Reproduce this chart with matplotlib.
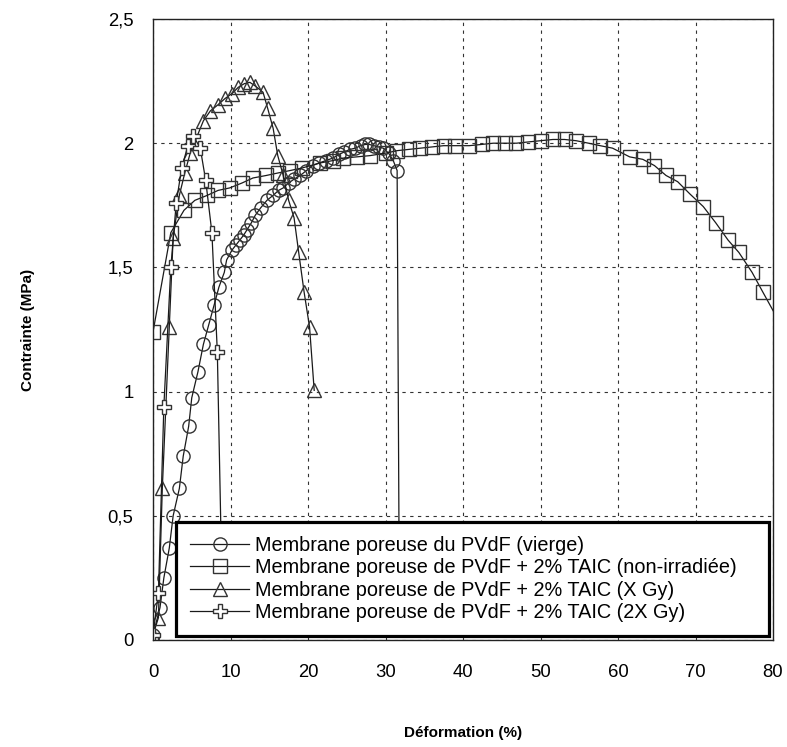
import matplotlib
matplotlib.use("Agg")
import matplotlib.pyplot as plt
from matplotlib.ticker import FuncFormatter

plt.rcParams['font.family'] = ['Liberation Sans', 'DejaVu Sans']

# ---- data ----
circ_x = [0.0, 0.9, 1.4, 2.1, 2.6, 3.4, 3.9, 4.6, 5.0, 5.8, 6.5, 7.2, 7.9, 8.5, 9.2, 9.5,
          10.2, 10.7, 11.2, 11.7, 12.1, 12.7, 13.2, 13.9, 14.7, 15.5, 16.2, 16.8, 17.5,
          18.2, 19.0, 19.8, 20.6, 21.4, 22.3, 23.2, 24.0, 24.7, 25.4, 26.1, 26.8, 27.4,
          27.9, 28.5, 29.1, 29.7, 30.4, 31.0, 31.5, 31.8]
circ_y = [0.02, 0.13, 0.25, 0.37, 0.50, 0.61, 0.74, 0.86, 0.975, 1.08, 1.19, 1.27, 1.35,
          1.42, 1.48, 1.53, 1.57, 1.59, 1.61, 1.63, 1.65, 1.68, 1.71, 1.74, 1.77, 1.79,
          1.81, 1.82, 1.84, 1.855, 1.87, 1.89, 1.91, 1.92, 1.93, 1.94, 1.955, 1.965,
          1.975, 1.98, 1.99, 1.995, 1.995, 1.99, 1.985, 1.98, 1.96, 1.93, 1.89, 0.07]

sq_x = [0.0, 2.3, 4.0, 5.4, 7.0, 8.4, 9.9, 11.5, 12.9, 14.6, 16.1, 17.7, 19.2, 21.5, 23.2,
        24.5, 26.3, 28.0, 30.0, 31.5, 33.0, 34.5, 36.0, 37.5, 39.0, 40.8, 42.4, 43.9, 45.4,
        46.9, 48.4, 50.0, 51.6, 53.1, 54.6, 56.2, 57.7, 59.3, 61.5, 63.2, 64.7, 66.2, 67.7,
        69.3, 71.0, 72.6, 74.2, 75.6, 77.3, 78.7, 81.0]
sq_y = [1.24, 1.64, 1.73, 1.77, 1.79, 1.81, 1.82, 1.84, 1.86, 1.87, 1.88, 1.89, 1.90, 1.92,
        1.93, 1.94, 1.945, 1.95, 1.96, 1.97, 1.975, 1.98, 1.985, 1.99, 1.99, 1.99, 1.995,
        2.0, 2.0, 2.0, 2.005, 2.01, 2.015, 2.015, 2.01, 2.0, 1.99, 1.98, 1.945, 1.935, 1.91,
        1.87, 1.845, 1.795, 1.745, 1.68, 1.61, 1.56, 1.48, 1.40, 1.27]

tri_x = [0.0, 0.7, 1.2, 2.1, 2.6, 3.4, 4.1, 4.8, 6.5, 7.4, 8.4, 9.3, 10.2, 11.0, 11.8, 12.5,
         13.2, 14.2, 14.8, 15.5, 16.1, 16.8, 17.5, 18.2, 18.8, 19.5, 20.2, 20.8]
tri_y = [0.02, 0.09, 0.61, 1.26, 1.62, 1.79, 1.88, 1.96, 2.09, 2.13, 2.155, 2.18, 2.20,
         2.225, 2.24, 2.245, 2.23, 2.205, 2.14, 2.06, 1.95, 1.87, 1.77, 1.70, 1.56, 1.40,
         1.26, 1.005]

plus_x = [0.0, 0.7, 1.4, 2.3, 3.0, 3.7, 4.5, 5.2, 6.1, 6.8, 7.6, 8.3, 9.0]
plus_y = [0.02, 0.19, 0.94, 1.50, 1.76, 1.90, 1.99, 2.03, 1.98, 1.85, 1.64, 1.16, 0.07]

labels = ["Membrane poreuse du PVdF (vierge)",
          "Membrane poreuse de PVdF + 2% TAIC (non-irradiée)",
          "Membrane poreuse de PVdF + 2% TAIC (X Gy)",
          "Membrane poreuse de PVdF + 2% TAIC (2X Gy)"]

x_ticks = [0, 10, 20, 30, 40, 50, 60, 70, 80]
y_ticks = [0, 0.5, 1.0, 1.5, 2.0, 2.5]

# ---- figure ----
fig = plt.figure(figsize=(7.87, 7.47), dpi=100)
ax = fig.add_axes([153/787, 1-640/747, 620/787, 621/747])

line_kw = dict(color='#1a1a1a', linewidth=0.9, markeredgecolor='#333333', markeredgewidth=1.0)
ax.plot(circ_x, circ_y, marker='o', markersize=9.5, markerfacecolor='none', label=labels[0], **line_kw)
ax.plot(sq_x, sq_y, marker='s', markersize=9.5, markerfacecolor='none', label=labels[1], **line_kw)
ax.plot(tri_x, tri_y, marker='^', markersize=10, markerfacecolor='none', label=labels[2], **line_kw)
ax.plot(plus_x, plus_y, marker='P', markersize=10.5, markerfacecolor='white', label=labels[3], **line_kw)

ax.set_xlim(0, 80)
ax.set_ylim(0, 2.5)
ax.set_xticks(x_ticks)
ax.set_yticks(y_ticks)
ax.yaxis.set_major_formatter(FuncFormatter(lambda v, p: ('%g' % v).replace('.', ',')))
ax.tick_params(axis='both', length=0, labelsize=13.3)
ax.tick_params(axis='x', pad=17)
ax.tick_params(axis='y', pad=14)
ax.grid(True, color='#333333', linestyle=(0, (3, 4)), linewidth=0.8)
ax.set_axisbelow(True)
for s in ax.spines.values():
    s.set_linewidth(1.0)
    s.set_color('#222222')

leg = ax.legend(loc='upper left', bbox_to_anchor=(0.037, 0.19, 0.9565, 0.0), mode='expand',
                fontsize=14.3, frameon=True, fancybox=False, framealpha=1.0,
                edgecolor='black', borderpad=0.7, labelspacing=0.175,
                handlelength=3.0, handletextpad=0.3, borderaxespad=0.0)
leg.get_frame().set_linewidth(2.3)

fig.text(28/787, 1-330/747, "Contrainte (MPa)", rotation=90, ha='center', va='center',
         fontsize=11, fontweight='bold')
fig.text(463/787, 1-733/747, "Déformation (%)", ha='center', va='center',
         fontsize=11, fontweight='bold')

fig.savefig("out.png", dpi=100)
